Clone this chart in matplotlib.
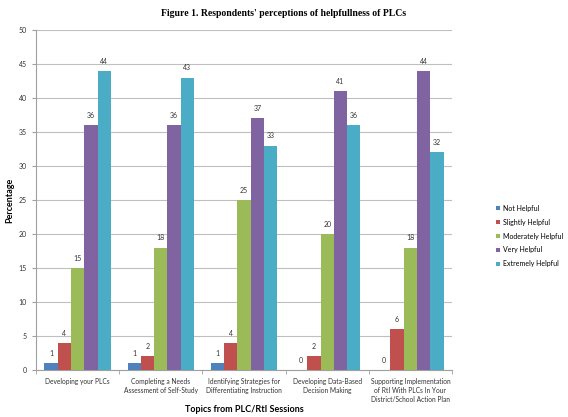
import numpy as np
import matplotlib
matplotlib.use("Agg")
import matplotlib.pyplot as plt

# ------------------- Data -------------------
topics = ["Developing your PLCs",
          "Completing a Needs\nAssessment of Self-Study",
          "Identifying Strategies for\nDifferentiating Instruction",
          "Developing Data-Based\nDecision Making",
          "Supporting Implementation\nof RtI With PLCs In Your\nDistrict/School Action Plan"]
series = ["Not Helpful", "Slightly Helpful", "Moderately Helpful", "Very Helpful", "Extremely Helpful"]
not_helpful = [1, 1, 1, 0, 0]
slightly_helpful = [4, 2, 4, 2, 6]
moderately_helpful = [15, 18, 25, 20, 18]
very_helpful = [36, 36, 37, 41, 44]
extremely_helpful = [44, 43, 33, 36, 32]
colors = ["#4F81BD", "#C0504D", "#9BBB59", "#8064A2", "#4BACC6"]

values = [not_helpful, slightly_helpful, moderately_helpful, very_helpful, extremely_helpful]

# ------------------- Plot -------------------
plt.rcParams['font.family'] = ['Lato', 'DejaVu Sans']
fig = plt.figure(figsize=(5.68, 4.17), dpi=100)
ax = fig.add_axes([36 / 568, 47 / 417, 416 / 568, 340 / 417])

x = np.arange(len(topics))
width = 0.16
for i, (name, vals) in enumerate(zip(series, values)):
    pos = x + (i - 2) * width
    ax.bar(pos, vals, width, color=colors[i], label=name, zorder=3)
    for p, v in zip(pos, vals):
        ax.text(p, v + 0.9, str(v), ha='center', va='bottom', fontsize=5, color='#333333')

ax.set_xlim(-0.5, len(topics) - 0.5)
ax.set_ylim(0, 50)
ax.set_yticks(range(0, 51, 5))
ax.yaxis.grid(True, color='#BFBFBF', linewidth=0.8, zorder=0)
ax.set_xticks(x)
ax.set_xticklabels(topics, fontsize=4.8, color='#333333', linespacing=1.3)
ax.set_xticks(np.arange(-0.5, len(topics), 1), minor=True)
ax.tick_params(axis='x', which='major', length=0, pad=6)
ax.tick_params(axis='x', which='minor', length=3, color='#A0A0A0')
ax.tick_params(axis='y', labelsize=5, length=3, color='#A0A0A0', labelcolor='#333333')
for s in ['top', 'right']:
    ax.spines[s].set_visible(False)
for s in ['left', 'bottom']:
    ax.spines[s].set_color('#A0A0A0')

fig.text(244 / 568, 1 - 409 / 417, "Topics from PLC/RtI Sessions", ha='center', va='center',
         fontsize=6.5, fontweight='bold')
fig.text(10 / 568, 1 - 200 / 417, "Percentage", ha='center', va='center', rotation=90,
         fontsize=6.5, fontweight='bold')
fig.text(0.5, 0.962, "Figure 1. Respondents' perceptions of helpfullness of PLCs",
         ha='center', fontsize=7, fontweight='bold', family='Liberation Serif')

ax.legend(loc='center left', bbox_to_anchor=(1.09, 0.394), frameon=False, fontsize=5,
          handlelength=0.6, handleheight=0.6, handletextpad=0.4, labelspacing=1.0)

fig.savefig("out.png", dpi=100)
